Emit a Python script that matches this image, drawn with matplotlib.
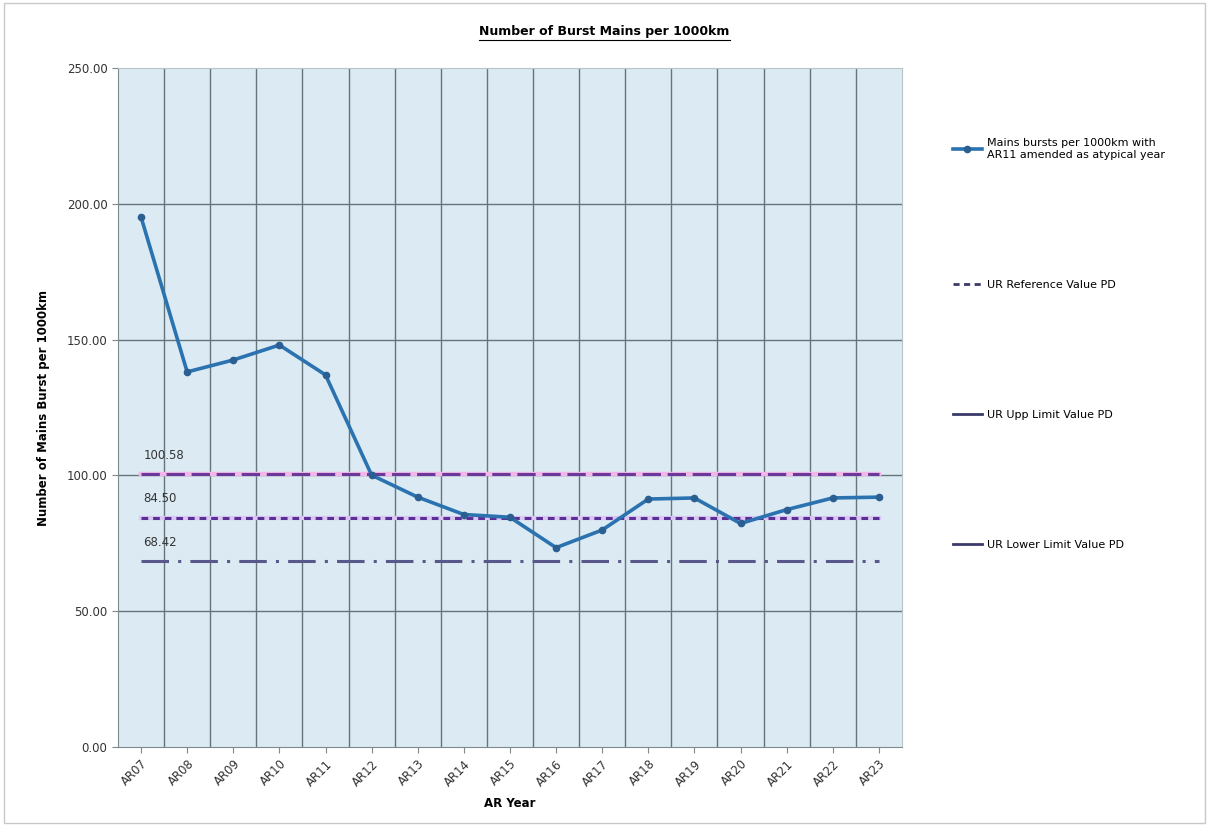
import matplotlib
matplotlib.use("Agg")
import matplotlib.pyplot as plt
from matplotlib.lines import Line2D
import numpy as np

# AR years and mains bursts per 1000km
years = ["AR07", "AR08", "AR09", "AR10", "AR11", "AR12", "AR13", "AR14", "AR15",
         "AR16", "AR17", "AR18", "AR19", "AR20", "AR21", "AR22", "AR23"]
bursts = [195.1, 138.1, 142.5, 148.0, 137.0, 100.1, 92.0, 85.6, 84.6,
          73.4, 79.9, 91.3, 91.7, 82.3, 87.4, 91.7, 92.0]

upper_limit = 100.58
reference = 84.50
lower_limit = 68.42

yticks = [0, 50, 100, 150, 200, 250]

fig = plt.figure(figsize=(12.09, 8.26), dpi=100)
ax = fig.add_axes([0.0976, 0.0956, 0.6484, 0.8221])
ax.set_facecolor("#dbeaf3")

x = np.arange(len(years))
n = len(years)

# horizontal target lines drawn as flat series across the years
ax.plot(x, [upper_limit] * n, color="#f3b6e8", lw=3.2, zorder=3)
ax.plot(x, [upper_limit] * n, color="#6a3a9a", lw=2.2, dashes=(6, 2.2), zorder=3)
ax.plot(x, [reference] * n, color="#d9c6f2", lw=3.0, zorder=3)
ax.plot(x, [reference] * n, color="#5b2f96", lw=2.2, dashes=(2.2, 1.6), zorder=3)
ax.plot(x, [lower_limit] * n, color="#58588a", lw=2.2, dashes=(9, 3, 1, 3), zorder=3)

ax.plot(x, bursts, color="#2a72b0", lw=2.6, marker="o", ms=4.5,
        mfc="#2b5f92", mec="#2b5f92", zorder=4)

for val in (upper_limit, reference, lower_limit):
    ax.text(0.05, val + 4.5, f"{val:.2f}", fontsize=8.5, color="#333333",
            ha="left", va="bottom", zorder=5)

ax.set_xlim(-0.5, n - 0.5)
ax.set_ylim(0, 250)
ax.set_yticks(yticks)
ax.set_yticklabels([f"{v:.2f}" for v in yticks], fontsize=8.5, color="#333333")
ax.set_xticks(x)
ax.set_xticklabels(years, rotation=45, ha="right", rotation_mode="anchor",
                   fontsize=8.5, color="#333333")

# category boundaries as vertical gridlines
for b in np.arange(0.5, n - 0.5, 1.0):
    ax.axvline(b, color="#66757b", lw=1.0, zorder=1)
for v in yticks[1:-1]:
    ax.axhline(v, color="#66757b", lw=1.0, zorder=1)

for side in ("top", "right"):
    ax.spines[side].set_color("#b8c4c8")
for side in ("left", "bottom"):
    ax.spines[side].set_color("#7f8a8e")
ax.tick_params(axis="both", length=4, color="#7f8a8e")

ax.set_xlabel("AR Year", fontsize=8.5, fontweight="bold", labelpad=6)
ax.set_ylabel("Number of Mains Burst per 1000km", fontsize=8.5,
              fontweight="bold", labelpad=12)

title = fig.text(0.5, 0.962, "Number of Burst Mains per 1000km", ha="center",
                 va="center", fontsize=9, fontweight="bold")

handles = [
    Line2D([], [], color="#2a72b0", lw=2.6, marker="o", ms=4.5,
           mfc="#2b5f92", mec="#2b5f92"),
    Line2D([], [], color="#3a3a6a", lw=2, dashes=(2.2, 1.6)),
    Line2D([], [], color="#3a3a6a", lw=2),
    Line2D([], [], color="#3a3a6a", lw=2),
]
labels = [
    "Mains bursts per 1000km with\nAR11 amended as atypical year",
    "UR Reference Value PD",
    "UR Upp Limit Value PD",
    "UR Lower Limit Value PD",
]
fig.legend(handles, labels, loc="upper left", bbox_to_anchor=(0.78, 0.845),
           frameon=False, fontsize=8, labelspacing=10.8, handlelength=2.6,
           handletextpad=0.5)

# underline the title
fig.canvas.draw()
bb = title.get_window_extent().transformed(fig.transFigure.inverted())
fig.add_artist(Line2D([bb.x0, bb.x1], [bb.y0 - 0.002, bb.y0 - 0.002],
                      transform=fig.transFigure, color="black", lw=0.8))

# thin chart-area border
fig.add_artist(plt.Rectangle((0.003, 0.004), 0.994, 0.992, fill=False,
                             transform=fig.transFigure, edgecolor="#c8c8c8",
                             lw=1))

fig.savefig("out.png", dpi=100)
